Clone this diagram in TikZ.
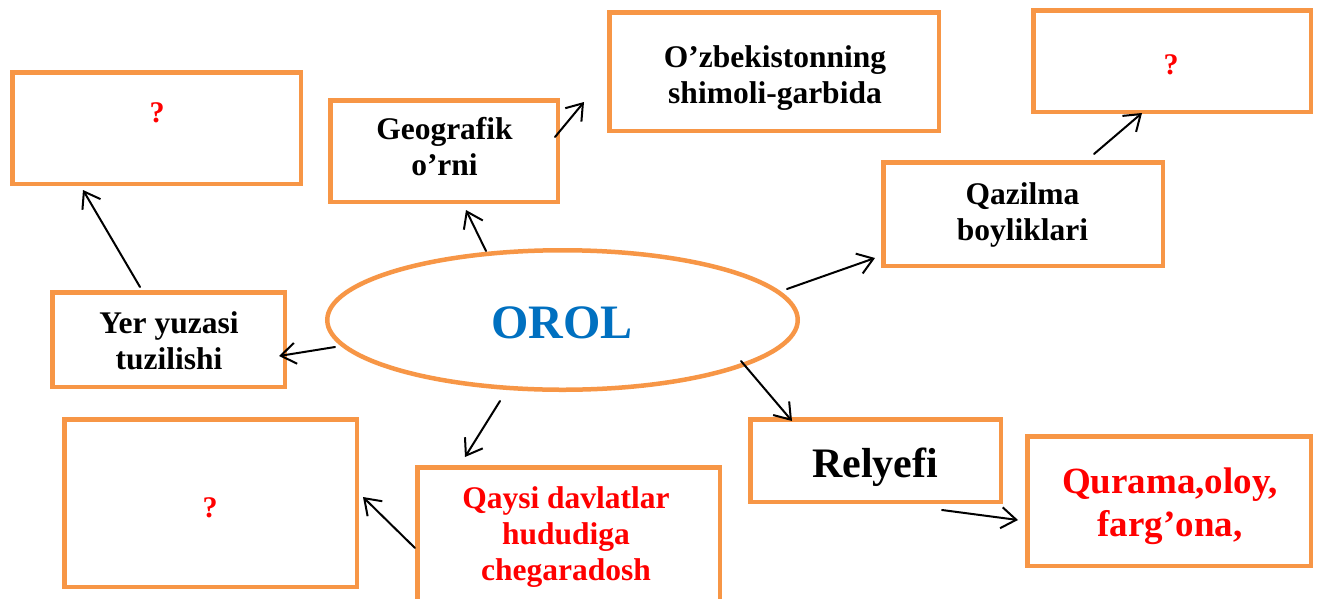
\documentclass[tikz,border=0pt]{standalone}
\usepackage{fontspec}
\setmainfont{Liberation Serif}
\usetikzlibrary{arrows.meta,calc,shapes.geometric}
\definecolor{boxorange}{HTML}{F79646}
\definecolor{orolblue}{HTML}{0070C0}
\newcommand\mylines[1]{\begin{tabular}[t]{@{}c@{}}#1\end{tabular}}
\tikzset{
  box/.style={draw=boxorange, line width=4.5pt, fill=white, inner sep=0pt},
  oval/.style={ellipse, draw=boxorange, line width=4.5pt, fill=white, inner sep=0pt},
  txt/.style={anchor=base, inner sep=0pt, font=\bfseries\fontsize{31.5}{36.2}\selectfont},
  qm/.style={anchor=base, inner sep=0pt, text=red, font=\bfseries\fontsize{30}{34}\selectfont},
  arr/.style={draw=black, line width=2pt, line cap=round,
    -{Straight Barb[length=15pt,width=21pt,line width=2pt]}}
}
\begin{document}
\begin{tikzpicture}[x=1pt,y=-1pt]
\fill[white] (0,0) rectangle (1320,598);
\useasboundingbox (0,0) rectangle (1320,598);
% boxes
\node[box, minimum width=288.5pt, minimum height=111.5pt] (qtl) at (156.5,128) {};
\node[box, minimum width=227.5pt, minimum height=101.5pt] (geo) at (444,151) {};
\node[box, minimum width=329.5pt, minimum height=118.5pt] (ozb) at (774,71.5) {};
\node[box, minimum width=277.5pt, minimum height=101.5pt] (qtr) at (1172,61) {};
\node[box, minimum width=279.5pt, minimum height=103.5pt] (qaz) at (1023,214) {};
\node[oval, minimum width=470.5pt, minimum height=139.5pt] (orol) at (562.5,320) {};
\node[box, minimum width=232.5pt, minimum height=94.5pt] (yer) at (168.5,339.5) {};
\node[box, minimum width=292.5pt, minimum height=167.5pt] (qbl) at (210.5,503) {};
\node[box, minimum width=302.5pt, minimum height=136.5pt] (qay) at (568.5,535.5) {};
\node[box, minimum width=250.5pt, minimum height=82.5pt] (rel) at (875.5,460.5) {};
\node[box, minimum width=283.5pt, minimum height=129.5pt] (qur) at (1169,501) {};
% texts
\node[qm] (tqtl) at (157,122) {?};
\node[txt] (tgeo) at (444.5,139) {\mylines{Geografik\\o’rni}};
\node[txt] (tozb) at (775,67) {\mylines{O’zbekistonning\\shimoli-garbida}};
\node[qm] (tqtr) at (1171,74) {?};
\node[txt] (tqaz) at (1022.5,204) {\mylines{Qazilma\\boyliklari}};
\node[txt, text=orolblue, font=\bfseries\fontsize{48}{55}\selectfont] (torol) at (562,338) {OROL};
\node[txt] (tyer) at (169,333) {\mylines{Yer yuzasi\\tuzilishi}};
\node[qm] (tqbl) at (210,517) {?};
\node[txt, text=red] (tqay) at (566,508) {\mylines{Qaysi davlatlar\\hududiga\\chegaradosh}};
\node[txt, font=\bfseries\fontsize{42}{48}\selectfont] (trel) at (875,477) {Relyefi};
\node[txt, text=red, font=\bfseries\fontsize{37}{43}\selectfont] (tqur) at (1170,493) {\mylines{Qurama,oloy,\\farg’ona,}};
% arrows
\draw[arr] ($(yer.north)+(-28.5,-3)$) -- ($(qtl.south)+(-73.5,4)$);
\draw[arr] ($(orol.north)+(-76.5,3)$) -- ($(geo.south)+(22,6)$);
\draw[arr] ($(geo.east)+(-5,-14)$) -- ($(ozb.west)+(-23,30.5)$);
\draw[arr] ($(orol.east)+(-13,-31)$) -- ($(qaz.west)+(-6,44)$);
\draw[arr] ($(qaz.north)+(71,-6)$) -- ($(qtr.south)+(-30,-1)$);
\draw[arr] ($(orol.west)+(10,27)$) -- ($(yer.east)+(-8,16.5)$);
\draw[arr] ($(orol.south)+(-62.5,9)$) -- ($(qay.north)+(-103.5,-8)$);
\draw[arr] ($(qay.west)+(0,12.5)$) -- ($(qbl.east)+(4,-6)$);
\draw[arr] ($(orol.south)+(178.5,-31)$) -- ($(rel.north)+(-83.5,4)$);
\draw[arr] ($(rel.south)+(66.5,6)$) -- ($(qur.west)+(-7,19)$);
\end{tikzpicture}
\end{document}
